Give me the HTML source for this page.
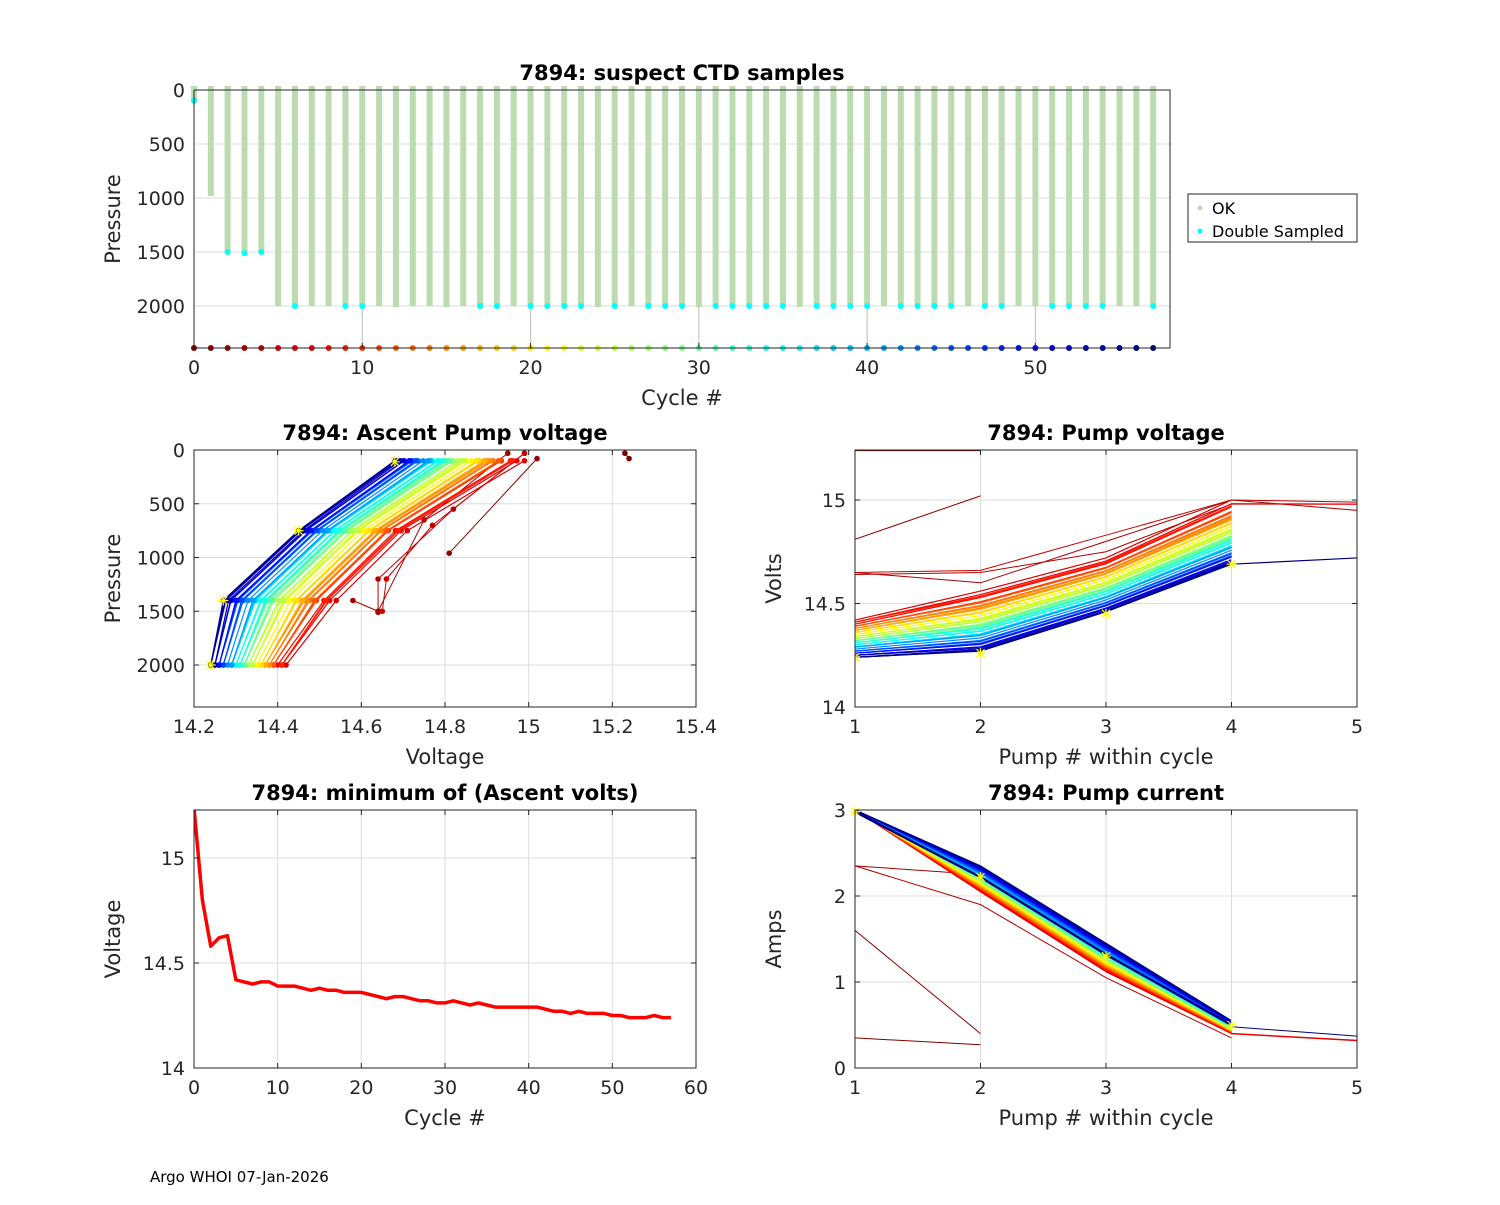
<!DOCTYPE html>
<html><head><meta charset="utf-8"><style>
body{margin:0;background:#fff;font-family:"Liberation Sans","DejaVu Sans",sans-serif}
svg text{font-family:"DejaVu Sans","Liberation Sans",sans-serif;fill:#262626}
</style></head><body>
<svg id="s" width="1500" height="1200" xmlns="http://www.w3.org/2000/svg">
<rect width="1500" height="1200" fill="#fff"/>
<text x="150" y="1182" font-size="15" style="fill:#000">Argo WHOI 07-Jan-2026</text>
</svg>
<script>
// ---- data ----
const cycles = Array.from({length:58},(_, i)=>i);
const minVolt = [15.24,14.8,14.58,14.62,14.63,14.42,14.41,14.40,14.41,14.41,14.39,14.39,14.39,14.38,14.37,14.38,14.37,14.37,14.36,14.36,14.36,14.35,14.34,14.33,14.34,14.34,14.33,14.32,14.32,14.31,14.31,14.32,14.31,14.30,14.31,14.30,14.29,14.29,14.29,14.29,14.29,14.29,14.28,14.27,14.27,14.26,14.27,14.26,14.26,14.26,14.25,14.25,14.24,14.24,14.24,14.25,14.24,14.24];
const maxPres = [100,980,1500,1510,1500];
const doubleSampled = [0,2,3,4,6,9,10,17,18,20,21,22,23,25,27,28,29,31,32,33,34,35,37,38,39,40,42,43,44,45,47,48,51,52,53,54,57];
const ascentPres = [2000,1400,750,100];
const offEarly = [0,0.12,0.29,0.57];
const offLate = [0,0.03,0.21,0.44];
const pumpOffEarly = [0,0.14,0.3,0.58];
const pumpOffLate = [0,0.03,0.22,0.45];
const currEarly = [3.0,2.05,1.12,0.4];
const currLate = [3.0,2.35,1.45,0.55];
const topTicksX=[0,10,20,30,40,50], topTicksY=[0,500,1000,1500,2000];
const apTicksX=[14.2,14.4,14.6,14.8,15,15.2,15.4], apTicksY=[0,500,1000,1500,2000];
const pvTicksX=[1,2,3,4,5], pvTicksY=[14,14.5,15];
const mvTicksX=[0,10,20,30,40,50,60], mvTicksY=[14,14.5,15];
const pcTicksY=[0,1,2,3];

const S=document.getElementById('s'), NS='http://www.w3.org/2000/svg';
function el(t,a,p){const e=document.createElementNS(NS,t);for(const k in a)e.setAttribute(k,a[k]);(p||S).appendChild(e);return e;}
function jet(t){t=Math.max(0,Math.min(1,t));const f=x=>Math.round(255*Math.max(0,Math.min(1,1.5-Math.abs(4*t-x))));return `rgb(${f(3)},${f(2)},${f(1)})`;}
function ccol(c){return jet(1-c/57);}
function lin(d0,d1,r0,r1){return v=>r0+(v-d0)/(d1-d0)*(r1-r0);}
function axes(name,x0,y0,x1,y1,sx,sy,tx,ty,fmt,title,xl,yl,grid){
  const g=el('g',{});
  if(grid!==false){tx.forEach(v=>el('line',{x1:sx(v),x2:sx(v),y1:y0,y2:y1,stroke:'#dcdcdc','stroke-width':1},g));
  ty.forEach(v=>el('line',{x1:x0,x2:x1,y1:sy(v),y2:sy(v),stroke:'#dcdcdc','stroke-width':1},g));}
  const t=el('text',{x:(x0+x1)/2,y:y0-10,'font-size':21,'font-weight':'bold','text-anchor':'middle',style:'fill:#000'},g);t.textContent=title;
  
  tx.forEach(v=>{const e=el('text',{x:sx(v),y:y1+26,'font-size':19,'text-anchor':'middle'},g);e.textContent=fmt(v);
    });
  ty.forEach(v=>{const e=el('text',{x:x0-9,y:sy(v)+7,'font-size':19,'text-anchor':'end'},g);e.textContent=fmt(v);
    });
  const a=el('text',{x:(x0+x1)/2,y:y1+57,'font-size':21,'text-anchor':'middle'},g);a.textContent=xl;
  
  const b=el('text',{x:0,y:0,'font-size':21,'text-anchor':'middle',transform:`translate(${x0-74},${(y0+y1)/2}) rotate(-90)`},g);b.textContent=yl;
  
  return g;
}
function frame(g,x0,y0,x1,y1,sx,sy,tx,ty){
  el('rect',{x:x0,y:y0,width:x1-x0,height:y1-y0,fill:'none',stroke:'#262626','stroke-width':1},g);
  tx.forEach(v=>{el('line',{x1:sx(v),x2:sx(v),y1:y1,y2:y1-5,stroke:'#262626'},g);el('line',{x1:sx(v),x2:sx(v),y1:y0,y2:y0+5,stroke:'#262626'},g);});
  ty.forEach(v=>{el('line',{x1:x0,x2:x0+5,y1:sy(v),y2:sy(v),stroke:'#262626'},g);el('line',{x1:x1,x2:x1-5,y1:sy(v),y2:sy(v),stroke:'#262626'},g);});
}
function poly(g,pts,col,w,name){const p=el('polyline',{points:pts.map(q=>q.join(',')).join(' '),fill:'none',stroke:col,'stroke-width':w,'stroke-linejoin':'round'},g);
  return p;}
function dot(g,x,y,col,r,name){const c=el('circle',{cx:x,cy:y,r:r,fill:col},g);}
function star(g,x,y){const p=el('path',{d:`M${x-5},${y}h10M${x},${y-5}v10M${x-4},${y-4}l8,8M${x-4},${y+4}l8,-8`,stroke:'#ff0',fill:'none','stroke-width':1.2},g);
  }
const blend=(a,b,t)=>a.map((v,i)=>v+(b[i]-v)*t);
const fmtN=v=>String(Math.round(v*10)/10);

// ---- top panel ----
{const x0=194,x1=1170,y0=90,y1=348;const sx=lin(0,58,x0,x1),sy=lin(0,2000,y0,306);
 const g=axes('suspect-ctd-panel',x0,y0,x1,y1,sx,sy,topTicksX,topTicksY,fmtN,'7894: suspect CTD samples','Cycle #','Pressure',false);
 topTicksY.forEach(v=>el('line',{x1:x0,x2:x1,y1:sy(v),y2:sy(v),stroke:'#dcdcdc'},g));
 topTicksX.forEach(v=>el('line',{x1:sx(v),x2:sx(v),y1:y0,y2:y1,stroke:'#bbb'},g));
 cycles.forEach(c=>{const mp=c<maxPres.length?maxPres[c]:(c%3==0?2010:2000);
   const r=el('rect',{x:sx(c)-3,y:sy(0)-4,width:6,height:sy(mp)-sy(0)+4,fill:'#bbdcb0'},g);
   });
 doubleSampled.forEach(c=>{const mp=c<maxPres.length?maxPres[c]:2000;dot(g,sx(c),sy(mp),'#00ffff',3,'double-sampled-point');});
 cycles.forEach(c=>dot(g,sx(c),y1,ccol(c),3,'cycle-color-point'));
 el('path',{d:`M${x0},${y1}H${x1}M${x0},${y0}H${x1}V${y1}M${x0},${y0}V${y1}`,stroke:'#262626',fill:'none'},g);
 topTicksX.forEach(v=>el('line',{x1:sx(v),x2:sx(v),y1:y1,y2:y1-5,stroke:'#262626'},g));
 const L=el('g',{},g);
 el('rect',{x:1188,y:194,width:169,height:48,fill:'#fff',stroke:'#262626'},L);
 dot(L,1200,208,'#bbdcb0',2.5,'legend-ok-marker');dot(L,1200,231,'#00ffff',2.5,'legend-double-marker');
 const a=el('text',{x:1212,y:214,'font-size':16,style:'fill:#000'},L);a.textContent='OK';
 const b=el('text',{x:1212,y:237,'font-size':16,style:'fill:#000'},L);b.textContent='Double Sampled';
}
// ---- ascent pump voltage ----
{const x0=194,x1=696,y0=450,y1=707;const sx=lin(14.2,15.4,x0,x1),sy=lin(0,2000,y0,665);
 const g=axes('ascent-pump-voltage-panel',x0,y0,x1,y1,sx,sy,apTicksX,apTicksY,fmtN,'7894: Ascent Pump voltage','Voltage','Pressure');
 const cl=el('clipPath',{id:'c1'},g);el('rect',{x:x0,y:y0,width:x1-x0,height:y1-y0},cl);
 const gg=el('g',{'clip-path':'url(#c1)'},g);
 [[0,[[15.23,30],[15.24,80]]],[1,[[14.81,960],[15.02,80]]],[2,[[14.58,1400],[14.64,1500],[14.75,650],[14.95,30]]],[3,[[14.64,1510],[14.64,1200],[14.82,550],[14.99,30]]],[4,[[14.65,1500],[14.66,1200],[14.77,700],[14.99,30]]]].forEach(([c,pts])=>{
   poly(gg,pts.map(p=>[sx(p[0]),sy(p[1])]),ccol(c),1,'ascent-line-cycle-'+c);pts.forEach(p=>dot(gg,sx(p[0]),sy(p[1]),ccol(c),2.8,'ascent-point'));});
 for(let c=5;c<58;c++){const t=(c-5)/52;const off=blend(offEarly,offLate,Math.pow(t,0.7));
   const pts=ascentPres.map((p,i)=>[sx(minVolt[c]+off[i]),sy(p)]);
   poly(gg,pts,ccol(c),1.2,'ascent-line-cycle-'+c);pts.forEach(p=>dot(gg,p[0],p[1],ccol(c),2.8,'ascent-point'));}
 star(gg,sx(14.24),sy(2000));star(gg,sx(14.27),sy(1400));star(gg,sx(14.45),sy(750));star(gg,sx(14.68),sy(110));
 frame(g,x0,y0,x1,y1,sx,sy,apTicksX,apTicksY);}
// ---- pump voltage ----
{const x0=855,x1=1357,y0=450,y1=707;const sx=lin(1,5,x0,x1),sy=lin(14,15,y1,500);
 const g=axes('pump-voltage-panel',x0,y0,x1,y1,sx,sy,pvTicksX,pvTicksY,fmtN,'7894: Pump voltage','Pump # within cycle','Volts');
 const cl=el('clipPath',{id:'c2'},g);el('rect',{x:x0,y:y0,width:x1-x0,height:y1-y0},cl);
 const gg=el('g',{'clip-path':'url(#c2)'},g);
 poly(gg,[[sx(1),sy(15.24)],[sx(2),sy(15.24)]],ccol(0),1.5,'pump-volt-cycle-0');
 poly(gg,[[sx(1),sy(14.81)],[sx(2),sy(15.02)]],ccol(1),1,'pump-volt-cycle-1');
 [[2,[14.65,14.6,14.8,15.0,14.95]],[3,[14.64,14.65,14.75,14.98,14.98]],[4,[14.65,14.66,14.83,15.0,14.99]]].forEach(([c,v])=>
   poly(gg,v.map((y,i)=>[sx(i+1),sy(y)]),ccol(c),1,'pump-volt-cycle-'+c));
 for(let c=5;c<58;c++){const t=(c-5)/52;const off=blend(pumpOffEarly,pumpOffLate,Math.pow(t,0.7));
   const pts=off.map((o,i)=>[sx(i+1),sy(minVolt[c]+o)]);
   if(c==57)pts.push([sx(5),sy(14.72)]);if(c==6)pts.push([sx(5),sy(14.98)]);
   poly(gg,pts,ccol(c),1.2,'pump-volt-cycle-'+c);}
 star(gg,sx(1),sy(14.24));star(gg,sx(2),sy(14.26));star(gg,sx(3),sy(14.45));star(gg,sx(4),sy(14.69));
 frame(g,x0,y0,x1,y1,sx,sy,pvTicksX,pvTicksY);}
// ---- min ascent volts ----
{const x0=194,x1=696,y0=810,y1=1068;const sx=lin(0,60,x0,x1),sy=lin(14,15,y1,858);
 const g=axes('min-ascent-volts-panel',x0,y0,x1,y1,sx,sy,mvTicksX,mvTicksY,fmtN,'7894: minimum of (Ascent volts)','Cycle #','Voltage');
 const cl=el('clipPath',{id:'c3'},g);el('rect',{x:x0,y:y0,width:x1-x0,height:y1-y0},cl);
 const gg=el('g',{'clip-path':'url(#c3)'},g);
 poly(gg,cycles.map(c=>[sx(c),sy(minVolt[c])]),'#ff0000',3.5,'min-voltage-line');
 frame(g,x0,y0,x1,y1,sx,sy,mvTicksX,mvTicksY);}
// ---- pump current ----
{const x0=855,x1=1357,y0=810,y1=1068;const sx=lin(1,5,x0,x1),sy=lin(0,3,y1,810);
 const g=axes('pump-current-panel',x0,y0,x1,y1,sx,sy,pvTicksX,pcTicksY,fmtN,'7894: Pump current','Pump # within cycle','Amps');
 const gg=el('g',{},g);
 poly(gg,[[sx(1),sy(2.35)],[sx(2),sy(2.25)]],ccol(2),1,'pump-current-cycle-2');
 poly(gg,[[sx(1),sy(2.35)],[sx(2),sy(1.9)],[sx(3),sy(1.05)],[sx(4),sy(0.35)]],ccol(3),1,'pump-current-cycle-3');
 poly(gg,[[sx(1),sy(1.6)],[sx(2),sy(0.4)]],ccol(1),1,'pump-current-cycle-1');
 poly(gg,[[sx(1),sy(0.35)],[sx(2),sy(0.27)]],ccol(0),1,'pump-current-cycle-0');
 poly(gg,[[sx(4),sy(0.4)],[sx(5),sy(0.32)]],ccol(6),1.5,'pump-current-pump5-red');
 poly(gg,[[sx(4),sy(0.48)],[sx(5),sy(0.37)]],ccol(57),1,'pump-current-pump5-blue');
 for(let c=4;c<58;c++){const t=(c-4)/53;const v=blend(currEarly,currLate,t);
   poly(gg,v.map((y,i)=>[sx(i+1),sy(y)]),ccol(c),1.2,'pump-current-cycle-'+c);}
 for(let c=40;c<58;c+=2){poly(gg,[[sx(1),sy(2.98)],[sx(2),sy(2.22)],[sx(3),sy(1.32)],[sx(4),sy(0.5)]],ccol(57),2,'pump-current-dense');}
 star(gg,sx(1),sy(2.98));star(gg,sx(2),sy(2.22));star(gg,sx(3),sy(1.3));star(gg,sx(4),sy(0.5));
 frame(g,x0,y0,x1,y1,sx,sy,pvTicksX,pcTicksY);}
</script>
</body></html>
